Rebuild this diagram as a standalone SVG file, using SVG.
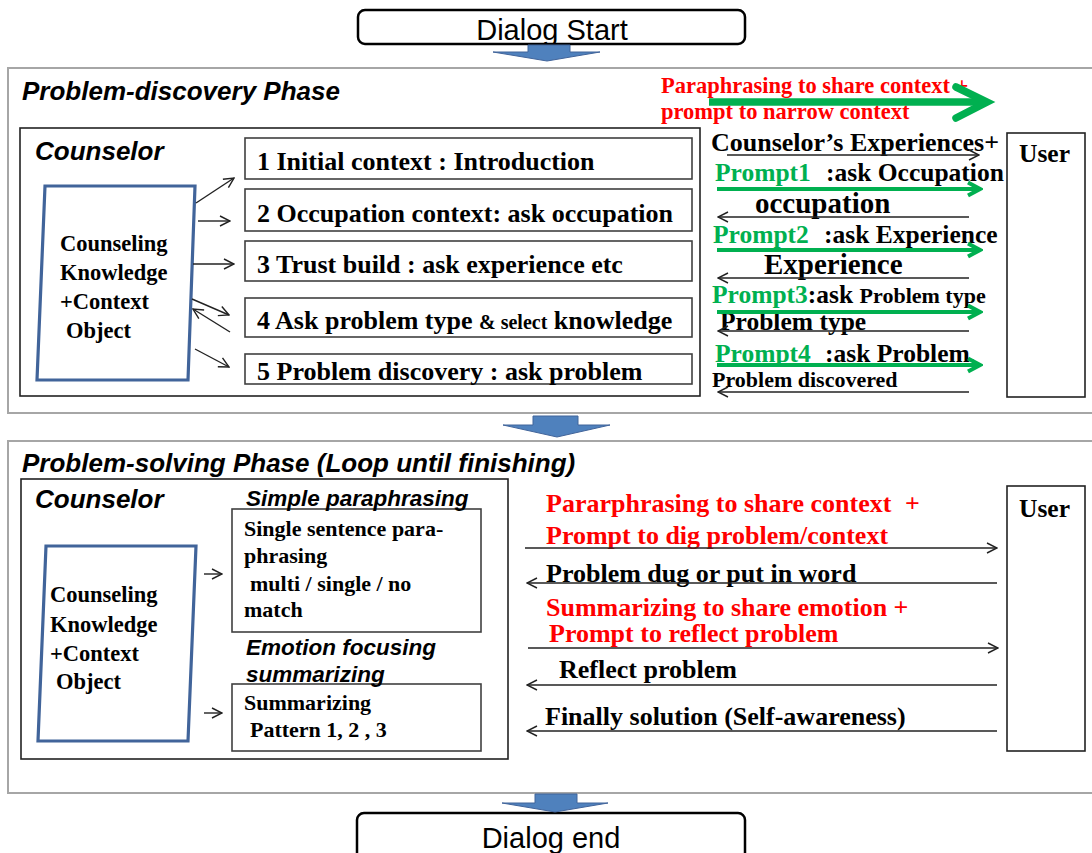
<svg xmlns="http://www.w3.org/2000/svg" width="1092" height="853" viewBox="0 0 1092 853">
  <style>
    .sans { font-family: "Liberation Sans", Arial, sans-serif; }
    .serif { font-family: "Liberation Serif", "Times New Roman", serif; font-weight: bold; }
    .title { font-family: "Liberation Sans", Arial, sans-serif; font-weight: bold; font-style: italic; font-size: 26px; }
    .sub { font-family: "Liberation Sans", Arial, sans-serif; font-weight: bold; font-style: italic; font-size: 22.5px; }
    .phase { fill: #fff; stroke: #a6a6a6; stroke-width: 2; }
    .frame { fill: #fff; stroke: #222; stroke-width: 1.6; }
    .step { fill: #fff; stroke: #404040; stroke-width: 1.6; }
    .kb { fill: #fff; stroke: #41649a; stroke-width: 3.2; }
    .flow { fill: #4f81bd; stroke: #41649a; stroke-width: 1; }
    .msg { stroke: #222; stroke-width: 1.4; fill: none; marker-end: url(#open); }
    .gmsg { stroke: #00b050; stroke-width: 4; fill: none; marker-end: url(#gopen); }
    .red { fill: #ff0000; }
    .green { fill: #00b050; }
    .step-t { font-size: 26px; }
    .kb-t { font-size: 22.5px; }
  </style>
  <defs>
    <marker id="open" viewBox="0 0 12 12" refX="11" refY="6" markerWidth="12" markerHeight="12" markerUnits="userSpaceOnUse" orient="auto">
      <path d="M1,1 L11,6 L1,11" fill="none" stroke="#222" stroke-width="1.4"/>
    </marker>
    <marker id="gopen" viewBox="0 0 18 18" refX="15" refY="9" markerWidth="18" markerHeight="18" markerUnits="userSpaceOnUse" orient="auto">
      <path d="M3,2.5 L15,9 L3,15.5" fill="none" stroke="#00b050" stroke-width="4"/>
    </marker>
  </defs>

  <rect width="1092" height="853" fill="#fff"/>

  <!-- start / end terminals -->
  <g id="dialog-start">
    <rect x="358" y="10" width="387" height="34" rx="7" fill="#fff" stroke="#000" stroke-width="2.5"/>
    <text class="sans" x="552" y="40" font-size="29" text-anchor="middle">Dialog Start</text>
  </g>

  <!-- phase 1 -->
  <g id="phase-discovery">
    <rect class="phase" x="8" y="68" width="1100" height="345"/>
    <text class="title" x="22" y="100">Problem-discovery Phase</text>
  </g>

  <g id="counselor-1">
    <rect class="frame" x="20" y="128" width="680" height="268"/>
    <text class="title" x="35" y="160">Counselor</text>
  </g>

  <g id="knowledge-1">
    <polygon class="kb" points="45,186 195,186 188,380 37,380"/>
    <text class="serif kb-t" x="60" y="251">Counseling</text>
    <text class="serif kb-t" x="60" y="280">Knowledge</text>
    <text class="serif kb-t" x="60" y="309">+Context</text>
    <text class="serif kb-t" x="66" y="338">Object</text>
  </g>

  <g id="step-1">
    <rect class="step" x="245" y="138" width="447" height="41"/>
    <text class="serif step-t" x="257" y="170">1 Initial context : Introduction</text>
  </g>
  <g id="step-2">
    <rect class="step" x="245" y="189" width="447" height="42"/>
    <text class="serif step-t" x="257" y="222">2 Occupation context: ask occupation</text>
  </g>
  <g id="step-3">
    <rect class="step" x="245" y="241" width="447" height="40"/>
    <text class="serif step-t" x="257" y="273">3 Trust build : ask experience etc</text>
  </g>
  <g id="step-4">
    <rect class="step" x="245" y="298" width="447" height="39"/>
    <text class="serif step-t" x="257" y="329">4 Ask problem type <tspan font-size="20">&amp; select</tspan> knowledge</text>
  </g>
  <g id="step-5">
    <rect class="step" x="245" y="354" width="447" height="30"/>
    <text class="serif step-t" x="257" y="380">5 Problem discovery : ask problem</text>
  </g>

  <g id="user-1">
    <rect class="frame" x="1007" y="133" width="78" height="264"/>
    <text class="serif" x="1019" y="162" font-size="25.5">User</text>
  </g>

  <!-- phase 1 dialogue labels -->
  <g id="labels-1">
    <text class="serif red" x="661" y="93" font-size="22.5">Paraphrasing to share context +</text>
    <text class="serif red" x="661" y="119" font-size="22.5">prompt to narrow context</text>
    <text class="serif" x="711" y="151" font-size="26">Counselor’s Experiences+</text>
    <text class="serif green" x="715" y="181" font-size="25.5">Prompt1</text>
    <text class="serif" x="826" y="181" font-size="25.5">:ask Occupation</text>
    <text class="serif" x="755" y="213" font-size="29">occupation</text>
    <text class="serif green" x="713" y="243" font-size="25.5">Prompt2</text>
    <text class="serif" x="824" y="243" font-size="25.5">:ask Experience</text>
    <text class="serif" x="764" y="274" font-size="29">Experience</text>
    <text class="serif" x="712" y="303" font-size="25.5"><tspan class="green">Prompt3</tspan>:ask <tspan font-size="22">Problem type</tspan></text>
    <text class="serif" x="720" y="330" font-size="25.5">Problem type</text>
    <text class="serif green" x="715" y="362" font-size="25.5">Prompt4</text>
    <text class="serif" x="825" y="362" font-size="25.5">:ask Problem<tspan font-size="19">.</tspan></text>
    <text class="serif" x="712" y="387" font-size="22">Problem discovered</text>
  </g>

  <!-- phase 2 -->
  <g id="phase-solving">
    <rect class="phase" x="8" y="441" width="1100" height="352"/>
    <text class="title" x="22" y="472">Problem-solving Phase (Loop until finishing)</text>
  </g>

  <g id="counselor-2">
    <rect class="frame" x="21" y="479" width="487" height="280"/>
    <text class="title" x="35" y="508">Counselor</text>
  </g>

  <g id="knowledge-2">
    <polygon class="kb" points="46,546 196,546 188,741 38,741"/>
    <text class="serif kb-t" x="50" y="602">Counseling</text>
    <text class="serif kb-t" x="50" y="632">Knowledge</text>
    <text class="serif kb-t" x="50" y="661">+Context</text>
    <text class="serif kb-t" x="56" y="689">Object</text>
  </g>

  <g id="paraphrasing">
    <rect class="step" x="232" y="509" width="249" height="123"/>
    <text class="sub" x="246" y="506">Simple paraphrasing</text>
    <text class="serif" font-size="22" x="244" y="536">Single sentence para-</text>
    <text class="serif" font-size="22" x="244" y="563">phrasing</text>
    <text class="serif" font-size="22" x="250" y="591">multi / single / no</text>
    <text class="serif" font-size="22" x="244" y="617">match</text>
  </g>

  <g id="summarizing">
    <rect class="step" x="232" y="684" width="249" height="67"/>
    <text class="sub" x="246" y="655">Emotion focusing</text>
    <text class="sub" x="246" y="682">summarizing</text>
    <text class="serif" font-size="22" x="244" y="710">Summarizing</text>
    <text class="serif" font-size="22" x="250" y="737">Pattern 1, 2 , 3</text>
  </g>

  <g id="user-2">
    <rect class="frame" x="1007" y="486" width="78" height="265"/>
    <text class="serif" x="1019" y="517" font-size="25.5">User</text>
  </g>

  <g id="labels-2" font-size="26">
    <text class="serif red" x="546" y="512">Pararphrasing to share context</text>
    <text class="serif red" x="905" y="512">+</text>
    <text class="serif red" x="546" y="544">Prompt to dig problem/context</text>
    <text class="serif" x="546" y="582">Problem dug or put in word</text>
    <text class="serif red" x="546" y="616">Summarizing to share emotion +</text>
    <text class="serif red" x="549" y="642">Prompt to reflect problem</text>
    <text class="serif" x="559" y="678">Reflect problem</text>
    <text class="serif" x="545" y="725">Finally solution (Self-awareness)</text>
  </g>

  <g id="dialog-end">
    <rect x="357" y="813" width="388" height="50" rx="7" fill="#fff" stroke="#000" stroke-width="2.5"/>
    <text class="sans" x="551" y="848" font-size="29" text-anchor="middle">Dialog end</text>
  </g>

  <!-- connectors -->
  <g id="connectors">
    <!-- phase transitions -->
    <path class="flow" d="M528,45 L570,45 L570,52 L600,52 L547,61 L493,52 L528,52 Z"/>
    <path class="flow" d="M533,416 L578,416 L578,425 L610,425 L557,437 L503,425 L533,425 Z"/>
    <path class="flow" d="M535,794 L577,794 L577,803 L608,803 L555,812 L502,803 L535,803 Z"/>

    <!-- knowledge to steps -->
    <line class="msg" x1="196" y1="203" x2="234" y2="178"/>
    <line class="msg" x1="198" y1="221" x2="230" y2="221"/>
    <line class="msg" x1="193" y1="264" x2="234" y2="264"/>
    <line class="msg" x1="192" y1="299" x2="229" y2="315"/>
    <line class="msg" x1="230" y1="332" x2="193" y2="309"/>
    <line class="msg" x1="195" y1="349" x2="229" y2="367"/>

    <!-- knowledge to techniques -->
    <line class="msg" x1="204" y1="574" x2="222" y2="574"/>
    <line class="msg" x1="204" y1="713" x2="222" y2="713"/>

    <!-- phase 1 exchanges -->
    <line class="msg" x1="727" y1="155" x2="979" y2="155"/>
    <line class="gmsg" x1="717" y1="189" x2="980" y2="189"/>
    <line class="msg" x1="969" y1="217" x2="718" y2="217"/>
    <line class="gmsg" x1="717" y1="250" x2="980" y2="250"/>
    <line class="msg" x1="969" y1="278" x2="718" y2="278"/>
    <line class="gmsg" x1="717" y1="312" x2="980" y2="312"/>
    <line class="msg" x1="969" y1="331" x2="718" y2="331"/>
    <line class="gmsg" x1="717" y1="365" x2="980" y2="365"/>
    <line class="msg" x1="969" y1="392" x2="718" y2="392"/>

    <!-- phase 1 header arrow -->
    <line x1="709" y1="102" x2="982" y2="102" stroke="#00b050" stroke-width="7.5"/>
    <path d="M956,87 L987,102 L956,118" fill="none" stroke="#00b050" stroke-width="7.5" stroke-linecap="round" stroke-linejoin="miter"/>

    <!-- phase 2 exchanges -->
    <line class="msg" x1="525" y1="548" x2="997" y2="548"/>
    <line class="msg" x1="997" y1="583" x2="527" y2="583"/>
    <line class="msg" x1="528" y1="648" x2="998" y2="648"/>
    <line class="msg" x1="997" y1="685" x2="527" y2="685"/>
    <line class="msg" x1="997" y1="731" x2="527" y2="731"/>
  </g>
</svg>
